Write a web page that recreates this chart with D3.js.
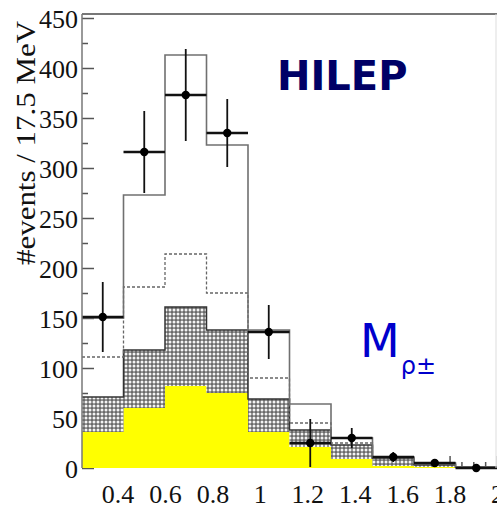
<!DOCTYPE html>
<html>
<head>
<meta charset="utf-8">
<script src="https://cdn.jsdelivr.net/npm/d3@7"></script>
<style>
  body { margin: 0; background: #fff; }
  svg { display: block; }
  .tick text { font-family: "Liberation Serif", serif; font-size: 26px; fill: #111; }
  .tick line { stroke: #555; stroke-width: 1.5; }
</style>
</head>
<body>
<div id="chart"></div>
<script>
"use strict";

// bin edges in GeV (10 bins of 175 MeV)
const binEdges = [0.25, 0.425, 0.6, 0.775, 0.95, 1.125, 1.3, 1.475, 1.65, 1.825, 2.0];

// stacked histogram tops
const yellowTop = [36, 60, 82, 75, 36, 21, 9, 2, 1, 0];
const hatchedTop = [71, 118, 161, 138, 69, 38, 23, 10, 3, 1];
const dashedTop = [111, 181, 214, 175, 90, 45, 25, 11, 4, 1];
const solidTop = [150, 273, 413, 323, 138, 64, 30, 11, 5, 1];

// data points and their errors
const dataVals = [151, 316, 373, 335, 136, 25, 30, 11, 5, 0];
const dataErr = [35, 41, 46, 34, 27, 24, 10, 5, 4, 3];

const xTicks = [0.4, 0.6, 0.8, 1.0, 1.2, 1.4, 1.6, 1.8, 2.0];
const yTicks = [0, 50, 100, 150, 200, 250, 300, 350, 400, 450];

const W = 497;
const H = 509;

const svg = d3
  .select("#chart")
  .append("svg")
  .attr("width", W)
  .attr("height", H);

const x = d3.scaleLinear().domain([0.25, 2.0]).range([82, 497]);
const y = d3.scaleLinear().domain([0, 454]).range([468, 14]);

// hatch pattern for the middle component
const defs = svg.append("defs");
const pat = defs
  .append("pattern")
  .attr("id", "hatch")
  .attr("patternUnits", "userSpaceOnUse")
  .attr("width", 4)
  .attr("height", 4);
pat.append("rect").attr("width", 4).attr("height", 4).attr("fill", "#6a6a6a");
pat.append("circle").attr("cx", 2).attr("cy", 2).attr("r", 1.5).attr("fill", "#f4f4f4");

// x-axis: ticks point up, labels below
const xMinor = d3.range(0.3, 2.001, 0.05).filter((v) => Math.abs(v * 5 - Math.round(v * 5)) > 0.01);
svg
  .append("g")
  .attr("transform", `translate(0, ${y(0)})`)
  .call(d3.axisBottom(x).tickValues(xMinor).tickSize(-6).tickFormat(""))
  .call((g) => g.select(".domain").remove());
svg
  .append("g")
  .attr("id", "x-axis")
  .attr("transform", `translate(0, ${y(0)})`)
  .call(
    d3
      .axisBottom(x)
      .tickValues(xTicks)
      .tickSize(-12)
      .tickPadding(17)
      .tickFormat((v) => String(+v.toFixed(1)))
  )
  .call((g) => g.select(".domain").remove());

// y-axis: ticks point right, labels left
const yMinor = d3.range(25, 451, 50);
svg
  .append("g")
  .attr("transform", `translate(${x(0.25)}, 0)`)
  .call(d3.axisLeft(y).tickValues(yMinor).tickSize(-6).tickFormat(""))
  .call((g) => g.select(".domain").remove());
svg
  .append("g")
  .attr("id", "y-axis")
  .attr("transform", `translate(${x(0.25)}, 0)`)
  .call(d3.axisLeft(y).tickValues(yTicks).tickSize(-12).tickPadding(4))
  .call((g) => g.select(".domain").remove());
svg.selectAll("#y-axis .tick text").attr("dy", "0.36em");

// step helpers
function steps(vals) {
  const pts = vals.map((v, i) => [binEdges[i], v]);
  pts.push([binEdges[binEdges.length - 1], vals[vals.length - 1]]);
  return pts;
}

const area = d3
  .area()
  .curve(d3.curveStepAfter)
  .x((d) => x(d[0]))
  .y0((d) => y(d[2]))
  .y1((d) => y(d[1]));

const line = d3
  .line()
  .curve(d3.curveStepAfter)
  .x((d) => x(d[0]))
  .y((d) => y(d[1]));

// yellow component
svg
  .append("path")
  .datum(steps(yellowTop).map((p) => [p[0], p[1], 0]))
  .attr("fill", "#ffff00")
  .attr("d", area);

// hatched component stacked on yellow
const yel = steps(yellowTop);
svg
  .append("path")
  .datum(steps(hatchedTop).map((p, i) => [p[0], p[1], yel[i][1]]))
  .attr("fill", "url(#hatch)")
  .attr("d", area);
svg
  .append("path")
  .datum(steps(hatchedTop))
  .attr("fill", "none")
  .attr("stroke", "#333")
  .attr("stroke-width", 1.5)
  .attr("d", line);

// dashed component
svg
  .append("path")
  .datum(steps(dashedTop))
  .attr("fill", "none")
  .attr("stroke", "#666")
  .attr("stroke-width", 1.3)
  .attr("stroke-dasharray", "3,2")
  .attr("d", line);

// total (solid outline)
svg
  .append("path")
  .datum(steps(solidTop))
  .attr("fill", "none")
  .attr("stroke", "#707070")
  .attr("stroke-width", 1.6)
  .attr("d", line);

// data points with error bars
const pts = dataVals.map((v, i) => ({
  x0: binEdges[i],
  x1: binEdges[i + 1],
  xc: (binEdges[i] + binEdges[i + 1]) / 2,
  v: v,
  e: dataErr[i],
}));

const gp = svg.append("g");
gp.selectAll("line.xerr")
  .data(pts)
  .enter()
  .append("line")
  .attr("x1", (d) => x(d.x0))
  .attr("x2", (d) => x(d.x1))
  .attr("y1", (d) => y(d.v))
  .attr("y2", (d) => y(d.v))
  .attr("stroke", "#111")
  .attr("stroke-width", 2.5);
gp.selectAll("line.yerr")
  .data(pts)
  .enter()
  .append("line")
  .attr("x1", (d) => x(d.xc))
  .attr("x2", (d) => x(d.xc))
  .attr("y1", (d) => y(Math.max(d.v - d.e, 0)))
  .attr("y2", (d) => y(d.v + d.e))
  .attr("stroke", "#111")
  .attr("stroke-width", 1.8);
gp.selectAll("circle")
  .data(pts)
  .enter()
  .append("circle")
  .attr("cx", (d) => x(d.xc))
  .attr("cy", (d) => y(d.v))
  .attr("r", 4.2)
  .attr("fill", "#000");

// frame
svg
  .append("line")
  .attr("x1", x(0.25))
  .attr("x2", W)
  .attr("y1", y(454))
  .attr("y2", y(454))
  .attr("stroke", "#777")
  .attr("stroke-width", 2);
svg
  .append("line")
  .attr("x1", x(0.25))
  .attr("x2", x(0.25))
  .attr("y1", y(454))
  .attr("y2", y(0))
  .attr("stroke", "#777")
  .attr("stroke-width", 1.5);
svg
  .append("line")
  .attr("x1", 496)
  .attr("x2", 496)
  .attr("y1", y(454))
  .attr("y2", y(0))
  .attr("stroke", "#ddd")
  .attr("stroke-width", 1);

// y title
svg
  .append("text")
  .attr("transform", "translate(35, 143) rotate(-90)")
  .attr("text-anchor", "middle")
  .attr("font-family", "Liberation Serif, serif")
  .attr("font-size", 27)
  .attr("textLength", 244)
  .attr("lengthAdjust", "spacingAndGlyphs")
  .attr("fill", "#111")
  .text("#events / 17.5 MeV");

// labels
svg
  .append("text")
  .attr("x", 277)
  .attr("y", 90)
  .attr("font-family", "DejaVu Sans, sans-serif")
  .attr("font-weight", "bold")
  .attr("font-size", 40)
  .attr("fill", "#000066")
  .text("HILEP");

const mLabel = svg
  .append("text")
  .attr("x", 360)
  .attr("y", 357)
  .attr("font-family", "DejaVu Sans, sans-serif")
  .attr("font-size", 46)
  .attr("fill", "#0000cc");
mLabel.append("tspan").text("M");
mLabel
  .append("tspan")
  .attr("font-size", 24)
  .attr("dx", 1)
  .attr("dy", 17)
  .text("ρ±");
</script>
</body>
</html>
